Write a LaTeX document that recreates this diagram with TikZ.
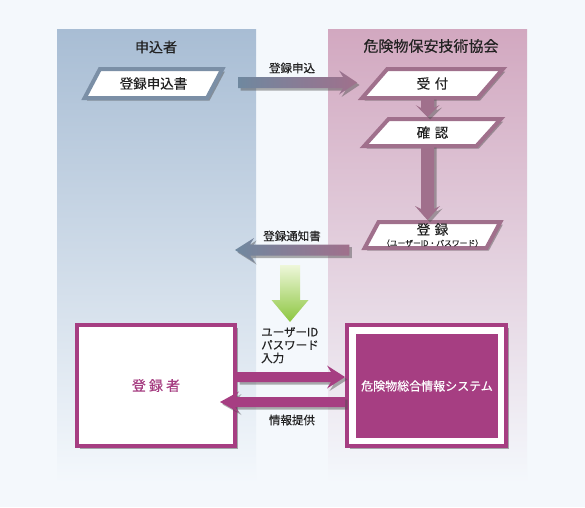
\documentclass[tikz,border=0pt]{standalone}
\usepackage{fontspec}
\setmainfont{Noto Sans CJK JP}[FakeBold=0.35]
\usetikzlibrary{calc,shapes.geometric,shadows}
\definecolor{bg}{HTML}{F4F8FC}
\definecolor{colL}{HTML}{A8BDD4}
\definecolor{colR}{HTML}{D2A8C0}
\definecolor{slate}{HTML}{6F889F}
\definecolor{paraL}{HTML}{7B8FA6}
\definecolor{mauve}{HTML}{A0708C}
\definecolor{mag}{HTML}{A63E82}
\definecolor{gtop}{HTML}{EEF7DA}
\definecolor{gbot}{HTML}{8CC63F}
\definecolor{txt}{HTML}{222222}
% #1 options, #2 from, #3 to, #4 shaft half width, #5 head half width, #6 head length, #7 sweep
\newcommand\blockarrow[7]{%
  \coordinate (ba-h) at ($(#3)!#6!(#2)$);
  \coordinate (ba-w) at ($(#3)!#6+#7!(#2)$);
  \path[#1] ($(#2)!#4!90:(#3)$) -- ($(ba-h)!#4!90:(#3)$) -- ($(ba-w)!#5!90:(#3)$)
     -- (#3) -- ($(ba-w)!#5!-90:(#3)$) -- ($(ba-h)!#4!-90:(#3)$) -- ($(#2)!#4!-90:(#3)$) -- cycle;}
\begin{document}
\begin{tikzpicture}[x=1pt,y=-1pt,
  shd/.style={drop shadow={shadow xshift=2.5pt,shadow yshift=-2.5pt,opacity=.45,fill=black!70}},
  para/.style={trapezium, trapezium left angle=61, trapezium right angle=119,
    trapezium stretches=true, fill=white, line width=4pt, text=txt, shd,
    font=\fontsize{13.5}{15}\selectfont},
  pl/.style={para, draw=paraL},
  pr/.style={para, draw=mauve},
  ttl/.style={text=txt, font=\fontsize{14}{16}\selectfont},
  lbl/.style={text=txt, font=\fontsize{11.5}{13}\selectfont, inner sep=0pt},
  box/.style={draw=mag, line width=4pt, fill=white, shd, minimum width=158pt, minimum height=121pt},
]
\fill[bg] (0,0) rectangle (585,507);
\useasboundingbox (0,0) rectangle (585,507);
\fill[top color=colL,bottom color=bg] (57,29) rectangle (256,483);
\fill[top color=colR,bottom color=bg] (328,29) rectangle (527,483);

% titles
\node[ttl] (t1) at (156,47) {申込者};
\node[ttl, font=\fontsize{15}{17}\selectfont] (t2) at (431,46) {危険物保安技術協会};

% parallelograms
\node[pl, minimum width=139pt, minimum height=29pt] (p1) at (153.5,83.5) {登録申込書};
\node[pr, minimum width=141pt, minimum height=29pt] (r1) at (432.5,83.5) {受\,\,付};
\node[pr, minimum width=137pt, minimum height=27pt] (r2) at (432.5,132.5) {確\,\,認};
\node[pr, minimum width=136pt, minimum height=26pt, align=center, inner sep=0pt] (r3) at (432.5,235)
  {登\,\,録\\[-3.5pt]{\fontsize{7.8}{8}\selectfont （ユーザーID・パスワード）}};

% bottom boxes
\node[box] (b1) at (156,385.5) {};
\node[font=\fontsize{14}{16}\selectfont, text=mag] (b1t) at (b1.center) {登 録 者};
\node[box, minimum width=159pt] (b2) at (426.5,385.5) {};
\node[fill=mag, minimum width=142pt, minimum height=104pt, text=white,
      font=\fontsize{12}{14}\selectfont] (b2in) at (427,386) {危険物総合情報システム};

% free ends
\coordinate (n1) at (235,250);
\coordinate (g1) at (290,265);
\coordinate (g2) at (290,322);
\coordinate (a1s) at ($(p1.east)+(21,-1)$);
\coordinate (a1e) at ($(r1.west)+(-15,-1)$);
\coordinate (a2s) at ($(r1.south)+(-5,-3)$);
\coordinate (a2e) at ($(r2.north)+(-5,0)$);
\coordinate (a3s) at ($(r2.south)+(-5,-3)$);
\coordinate (a3e) at ($(r3.north)+(-5,0)$);
\coordinate (a4s) at ($(r3.west)+(-20,15)$);
\coordinate (a6s) at ($(b1.east)+(0,-8.5)$);
\coordinate (a6e) at ($(b2.west)+(0,-8.5)$);
\coordinate (a7s) at ($(b2.west)+(0,16.5)$);
\coordinate (a7e) at ($(b1.east)+(-17,16.5)$);

% connectors
\blockarrow{shd, left color=slate, right color=mauve}{a1s}{a1e}{5.5pt}{12pt}{14pt}{4pt}
\blockarrow{shd, fill=mauve}{a2s}{a2e}{6.5pt}{12pt}{9pt}{3pt}
\blockarrow{shd, fill=mauve}{a3s}{a3e}{6.5pt}{12.5pt}{11pt}{3pt}
\blockarrow{shd, left color=slate, right color=mauve}{a4s}{n1}{5.5pt}{12pt}{15pt}{4pt}
\blockarrow{top color=gtop, bottom color=gbot}{g1}{g2}{10pt}{18.5pt}{22pt}{0pt}
\blockarrow{shd, fill=mag}{a6s}{a6e}{5pt}{11.5pt}{14pt}{4pt}
\blockarrow{shd, fill=mag}{a7s}{a7e}{5pt}{10.5pt}{15pt}{4pt}

% labels
\node[lbl] (l1) at (292,68) {登録申込};
\node[lbl] (l2) at (292,236) {登録通知書};
\node[lbl, align=left, anchor=north west] (l3) at (261,327) {ユーザーID\\パスワード\\入力};
\node[lbl] (l4) at (292,420) {情報提供};
\end{tikzpicture}
\end{document}
